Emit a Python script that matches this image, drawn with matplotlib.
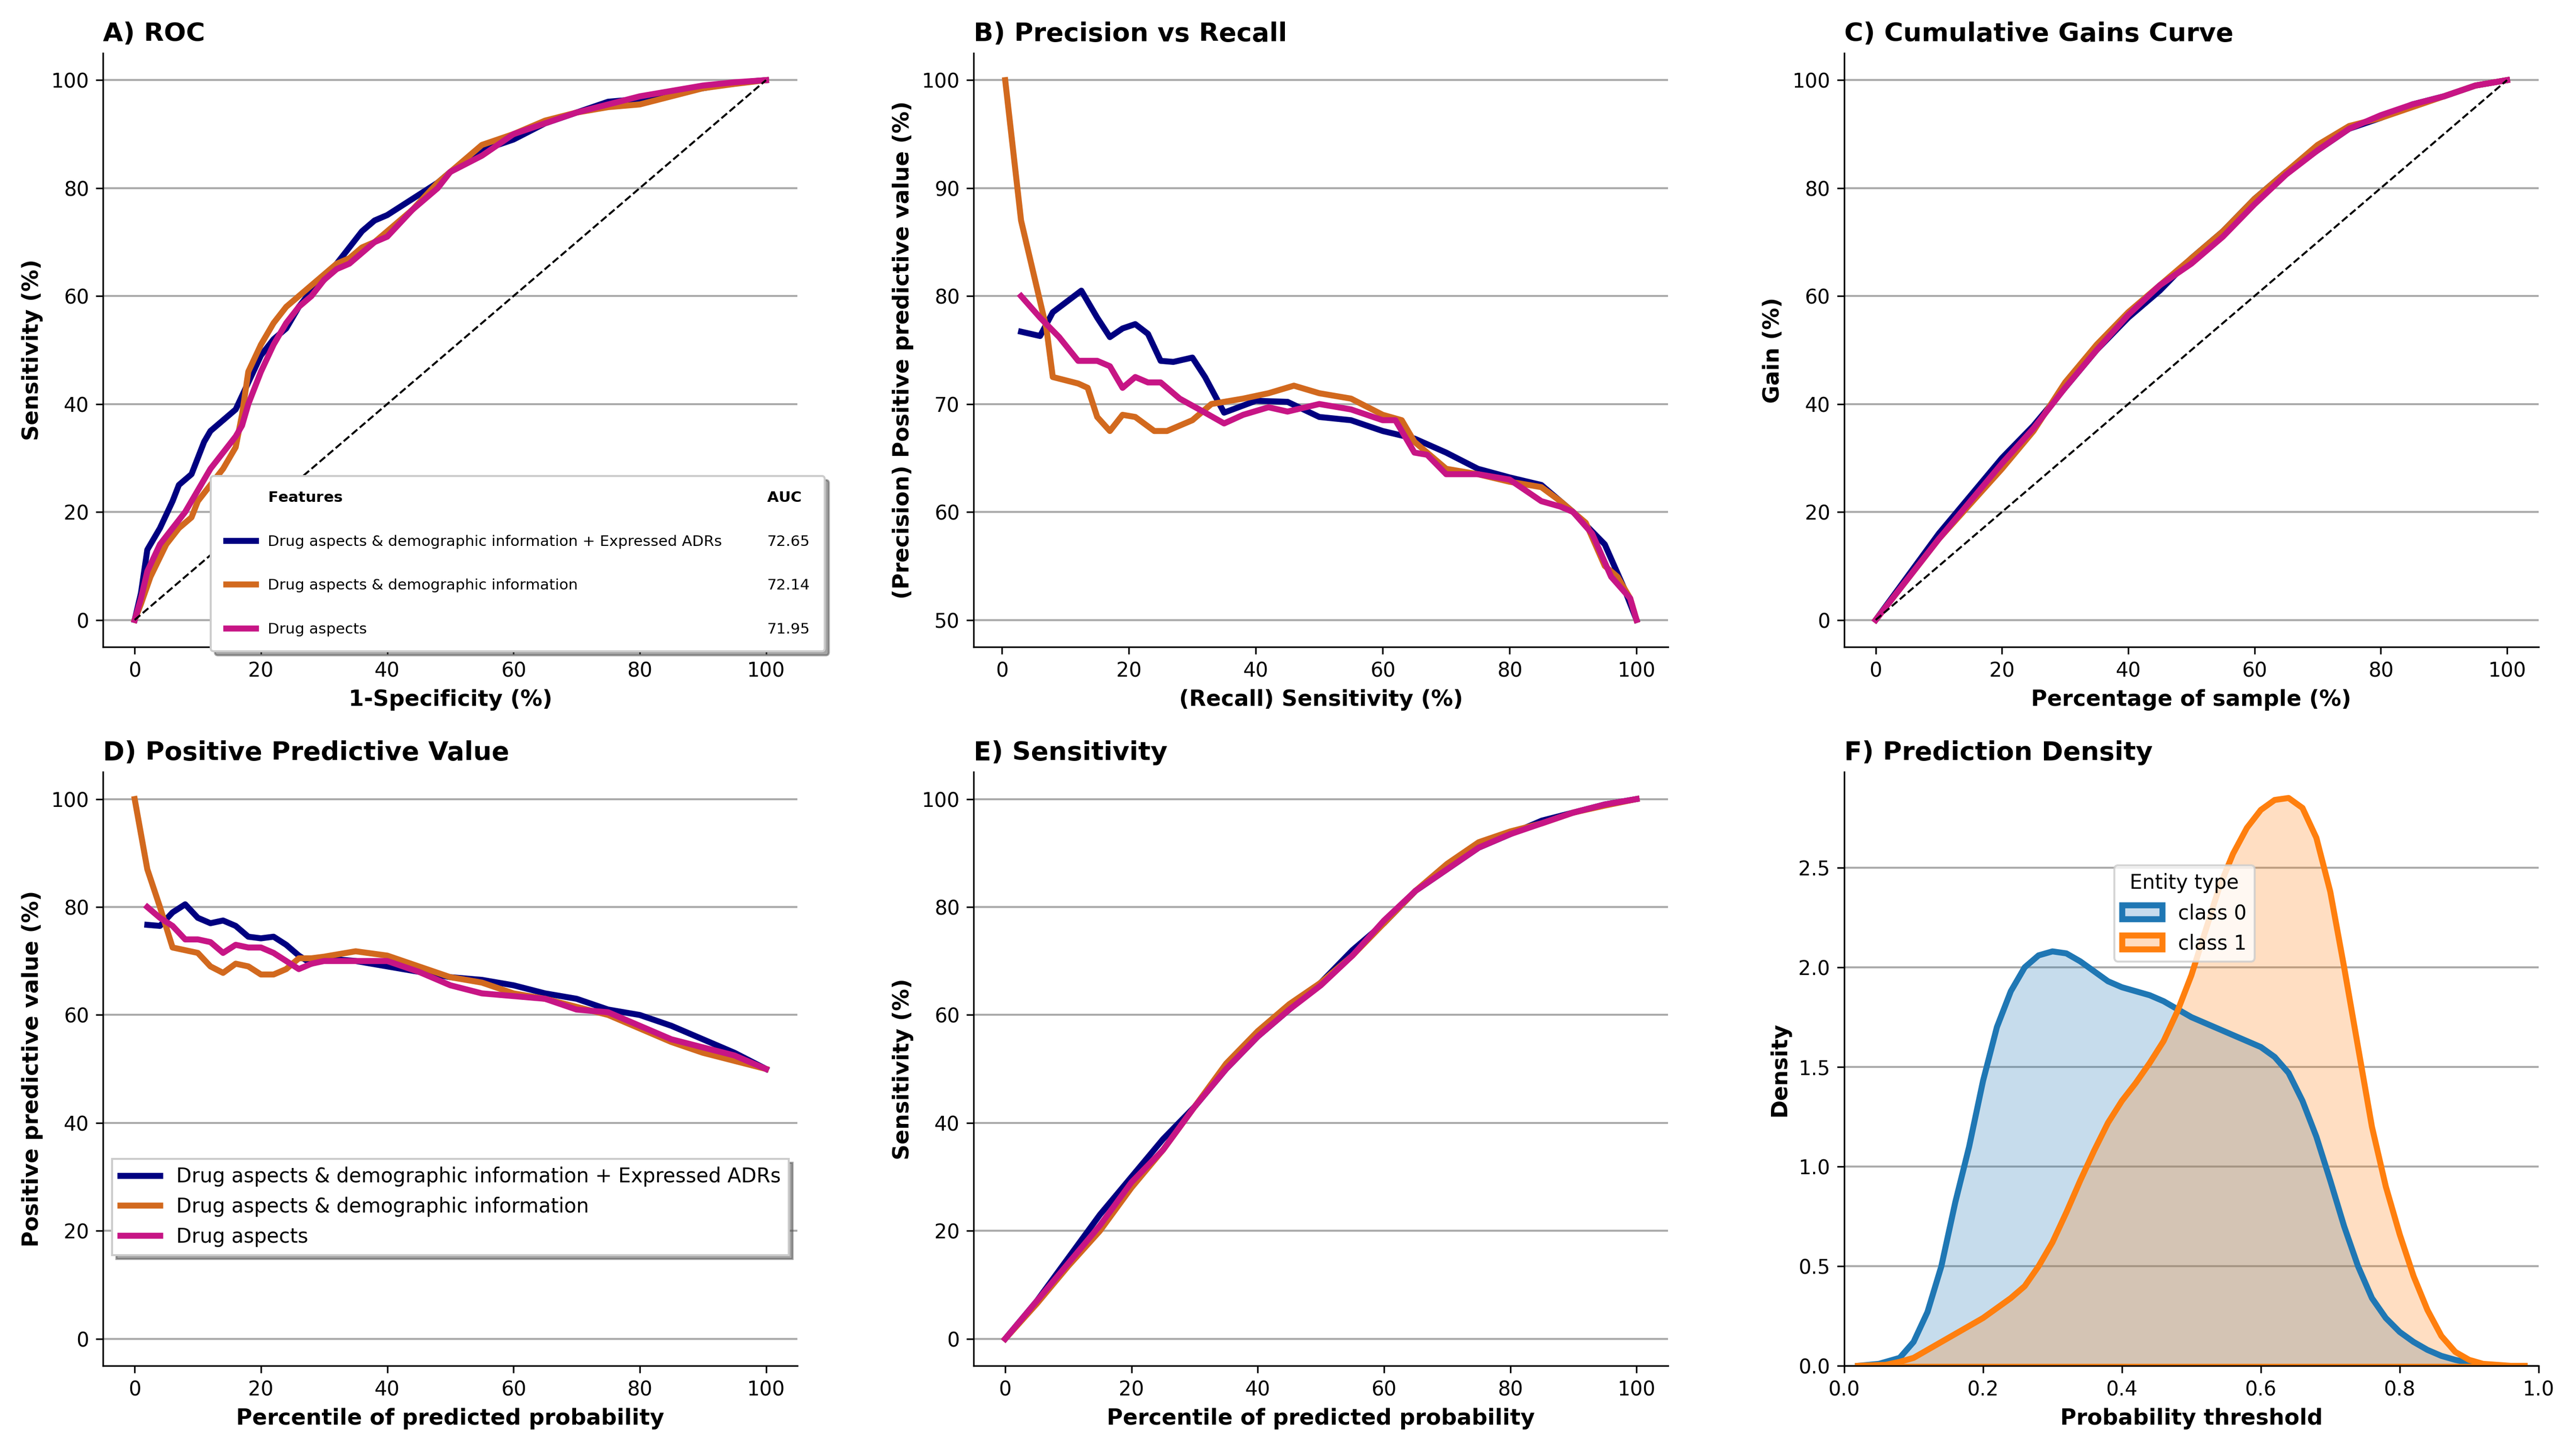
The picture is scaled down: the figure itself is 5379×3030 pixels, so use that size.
import numpy as np
import matplotlib
matplotlib.use('Agg')
import matplotlib.pyplot as plt
from matplotlib.lines import Line2D

NAMES = ['Drug aspects & demographic information + Expressed ADRs',
         'Drug aspects & demographic information',
         'Drug aspects']
COLORS = ['#000080', '#D2691E', '#C71585']
AUC = ['72.65', '72.14', '71.95']

# A) ROC
roc_x = [
    [0, 1, 2, 4, 6, 7, 9, 11, 12, 14, 16, 18, 20, 22, 24, 26, 28, 30, 32, 34, 36, 38, 40, 44, 48, 50, 55, 60, 65, 70, 75, 80, 85, 90, 95, 100],
    [0, 1, 2.5, 5, 7, 9, 10, 12, 14, 16, 17, 18, 20, 22, 24, 26, 28, 30, 32, 34, 36, 38, 40, 44, 48, 51, 55, 60, 65, 70, 75, 80, 85, 90, 95, 100],
    [0, 1, 2, 4, 6, 8, 10, 12, 14, 16, 17, 18, 20, 22, 24, 26, 28, 30, 32, 34, 36, 38, 40, 44, 48, 50, 55, 60, 65, 70, 75, 80, 85, 90, 95, 100],
]
roc_y = [
    [0, 5, 13, 17, 22, 25, 27, 33, 35, 37, 39, 44, 49, 52, 54, 58, 61, 63, 66, 69, 72, 74, 75, 78, 81, 83, 87, 89, 92, 94, 96, 96.5, 97.5, 98.5, 99.5, 100],
    [0, 3, 8, 14, 17, 19, 22, 25, 28, 32, 38, 46, 51, 55, 58, 60, 62, 64, 66, 67, 69, 70, 72, 76, 81, 84, 88, 90, 92.5, 94, 95, 95.5, 97, 98.5, 99.3, 100],
    [0, 4, 9, 14, 17, 20, 24, 28, 31, 34, 36, 40, 46, 51, 55, 58, 60, 63, 65, 66, 68, 70, 71, 76, 80, 83, 86, 90, 92, 94, 95.5, 97, 98, 99, 99.6, 100],
]

# B) Precision vs Recall
pr_x = [
    [3, 6, 8, 12.5, 15, 17, 19, 21, 23, 25, 27, 30, 32, 35, 40, 45, 50, 55, 60, 65, 70, 75, 80, 85, 90, 95, 98, 100],
    [0.5, 3, 5, 7, 8, 12, 13.5, 15, 17, 19, 21, 24, 26, 30, 33, 38, 42, 46, 50, 55, 60, 63, 65, 70, 75, 80, 85, 88, 92, 95, 97, 99, 100],
    [3, 6, 9, 12, 15, 17, 19, 21, 23, 25, 28, 32, 35, 38, 42, 45, 50, 55, 60, 62, 65, 67, 70, 75, 80, 85, 88, 90, 93, 96, 99, 100],
]
pr_y = [
    [76.7, 76.3, 78.5, 80.5, 78, 76.2, 77, 77.4, 76.5, 74, 73.9, 74.3, 72.5, 69.2, 70.3, 70.2, 68.8, 68.5, 67.5, 66.8, 65.5, 64, 63.2, 62.5, 60, 57, 53, 50],
    [100, 87, 82, 77, 72.5, 71.9, 71.5, 68.8, 67.5, 69, 68.8, 67.5, 67.5, 68.5, 70, 70.5, 71, 71.7, 71, 70.5, 69, 68.5, 66.5, 64, 63.5, 62.8, 62.3, 61, 59, 55, 54, 52, 50],
    [80, 78, 76.2, 74, 74, 73.5, 71.5, 72.5, 72, 72, 70.5, 69.2, 68.2, 69, 69.7, 69.3, 70, 69.5, 68.5, 68.5, 65.5, 65.3, 63.5, 63.5, 63, 61, 60.5, 60, 58, 54, 52, 50],
]

# C) Cumulative gains / E) Sensitivity
pct = [0, 5, 10, 15, 20, 25, 30, 35, 40, 45, 50, 55, 60, 65, 70, 75, 80, 85, 90, 95, 100]
gain_y = [
    [0, 8, 16, 23, 30, 36, 43, 50, 56, 61, 67, 72, 78, 83, 87, 91, 93, 95.5, 97, 99, 100],
    [0, 7.5, 15, 21.5, 28, 35, 44, 51, 57, 62, 67, 72, 78, 83, 88, 91.5, 93, 95, 97, 99, 100],
    [0, 7.5, 15, 22, 29, 35.5, 43, 50, 56.5, 62, 66, 71, 77, 82.5, 87, 91, 93.5, 95.5, 97, 99, 100],
]
sens_y = [
    [0, 7, 15, 23, 30, 37, 43, 50, 56, 61, 66, 72, 77, 83, 87, 91, 93.5, 96, 97.5, 99, 100],
    [0, 6.5, 13.5, 20, 28, 35, 43, 51, 57, 62, 66, 71, 77, 83, 88, 92, 94, 95.5, 97.5, 98.8, 100],
    [0, 7, 14, 21, 29, 35, 43, 50, 56, 61, 65.5, 71, 77.5, 83, 87, 91, 93.5, 95.5, 97.5, 99, 100],
]

# D) Positive predictive value
ppv_x = [
    [2, 4, 6, 8, 10, 12, 14, 16, 18, 20, 22, 24, 26, 28, 30, 35, 40, 45, 50, 55, 60, 65, 70, 75, 80, 85, 90, 95, 100],
    [0, 2, 4, 6, 8, 10, 12, 14, 16, 18, 20, 22, 24, 26, 28, 30, 35, 40, 45, 50, 55, 60, 65, 70, 75, 80, 85, 90, 95, 100],
    [2, 4, 6, 8, 10, 12, 14, 16, 18, 20, 22, 24, 26, 28, 30, 35, 40, 45, 50, 55, 60, 65, 70, 75, 80, 85, 90, 95, 100],
]
ppv_y = [
    [76.7, 76.5, 79, 80.5, 78, 77, 77.5, 76.5, 74.5, 74.2, 74.5, 73, 71, 69.5, 70.5, 70, 69, 68, 67, 66.5, 65.5, 64, 63, 61, 60, 58, 55.5, 53, 50],
    [100, 87, 80, 72.5, 72, 71.5, 69, 67.8, 69.5, 69, 67.5, 67.5, 68.5, 70.5, 70.5, 70.8, 71.8, 71, 69, 67, 66, 64, 63, 61.5, 60, 57.5, 55, 53, 51.5, 50],
    [80, 78, 76.5, 74, 74, 73.5, 71.5, 73, 72.5, 72.5, 71.5, 70, 68.5, 69.5, 70, 70, 70, 68, 65.5, 64, 63.5, 63, 61, 60.5, 58, 55.5, 54, 52.5, 50],
]

# F) density
d0_x = [0.02, 0.05, 0.08, 0.10, 0.12, 0.14, 0.16, 0.18, 0.20, 0.22, 0.24, 0.26, 0.28, 0.30, 0.32, 0.34, 0.36, 0.38, 0.40, 0.42, 0.44, 0.46, 0.48, 0.50, 0.52, 0.54, 0.56, 0.58, 0.60, 0.62, 0.64, 0.66, 0.68, 0.70, 0.72, 0.74, 0.76, 0.78, 0.80, 0.82, 0.84, 0.86, 0.88, 0.90, 0.92]
d0_y = [0, 0.01, 0.04, 0.12, 0.27, 0.5, 0.82, 1.1, 1.43, 1.7, 1.88, 2.0, 2.06, 2.08, 2.07, 2.03, 1.98, 1.93, 1.9, 1.88, 1.86, 1.83, 1.79, 1.75, 1.72, 1.69, 1.66, 1.63, 1.6, 1.55, 1.47, 1.33, 1.15, 0.93, 0.7, 0.5, 0.34, 0.24, 0.17, 0.12, 0.08, 0.05, 0.03, 0.015, 0.0]
d1_x = [0.02, 0.06, 0.08, 0.10, 0.12, 0.14, 0.16, 0.18, 0.20, 0.22, 0.24, 0.26, 0.28, 0.30, 0.32, 0.34, 0.36, 0.38, 0.40, 0.42, 0.44, 0.46, 0.48, 0.50, 0.52, 0.54, 0.56, 0.58, 0.60, 0.62, 0.64, 0.66, 0.68, 0.70, 0.72, 0.74, 0.76, 0.78, 0.80, 0.82, 0.84, 0.86, 0.88, 0.90, 0.92, 0.96, 0.98]
d1_y = [0, 0.005, 0.02, 0.04, 0.08, 0.12, 0.16, 0.2, 0.24, 0.29, 0.34, 0.4, 0.5, 0.62, 0.77, 0.93, 1.08, 1.22, 1.33, 1.42, 1.52, 1.63, 1.78, 1.96, 2.18, 2.4, 2.57, 2.7, 2.79, 2.84, 2.85, 2.8, 2.65, 2.38, 2.0, 1.6, 1.2, 0.9, 0.66, 0.45, 0.28, 0.15, 0.07, 0.03, 0.01, 0.0, 0.0]

LW = 3

def style(ax, title, xlabel, ylabel):
    ax.set_title(title, loc='left', fontweight='bold', fontsize=13)
    ax.set_xlabel(xlabel, fontweight='bold', fontsize=11)
    ax.set_ylabel(ylabel, fontweight='bold', fontsize=11)
    ax.spines['top'].set_visible(False)
    ax.spines['right'].set_visible(False)
    ax.yaxis.grid(True, color='#aaaaaa', linewidth=1)
    ax.set_axisbelow(True)

fig, axes = plt.subplots(2, 3, figsize=(17.93, 10.1), dpi=300)

ax = axes[0, 0]
for i in range(3):
    ax.plot(roc_x[i], roc_y[i], color=COLORS[i], lw=LW)
ax.plot([0, 100], [0, 100], 'k--', lw=1)
style(ax, 'A) ROC', '1-Specificity (%)', 'Sensitivity (%)')
blank = Line2D([], [], color='none')
handles = [blank] + [Line2D([], [], color=c, lw=LW) for c in COLORS] + [blank] * 4
labels = ['$\\bf{Features}$'] + NAMES + ['$\\bf{AUC}$'] + AUC
ax.legend(handles, labels, ncol=2, loc='lower right', fontsize=7.5, shadow=True,
          handlelength=2, columnspacing=0.2, labelspacing=2.0, borderpad=1.0,
          bbox_to_anchor=(1.05, -0.02))

ax = axes[0, 1]
for i in range(3):
    ax.plot(pr_x[i], pr_y[i], color=COLORS[i], lw=LW)
style(ax, 'B) Precision vs Recall', '(Recall) Sensitivity (%)', '(Precision) Positive predictive value (%)')

ax = axes[0, 2]
for i in range(3):
    ax.plot(pct, gain_y[i], color=COLORS[i], lw=LW)
ax.plot([0, 100], [0, 100], 'k--', lw=1)
style(ax, 'C) Cumulative Gains Curve', 'Percentage of sample (%)', 'Gain (%)')

ax = axes[1, 0]
for i in range(3):
    ax.plot(ppv_x[i], ppv_y[i], color=COLORS[i], lw=LW, label=NAMES[i])
ax.set_ylim(-5, 105)
style(ax, 'D) Positive Predictive Value', 'Percentile of predicted probability', 'Positive predictive value (%)')
ax.legend(loc='lower center', bbox_to_anchor=(0.5, 0.17), fontsize=10, shadow=True, fancybox=False)

ax = axes[1, 1]
for i in range(3):
    ax.plot(pct, sens_y[i], color=COLORS[i], lw=LW)
style(ax, 'E) Sensitivity', 'Percentile of predicted probability', 'Sensitivity (%)')

ax = axes[1, 2]
ax.fill_between(d0_x, d0_y, color='#1f77b4', alpha=0.25, lw=0)
ax.plot(d0_x, d0_y, color='#1f77b4', lw=LW)
ax.fill_between(d1_x, d1_y, color='#ff7f0e', alpha=0.25, lw=0)
ax.plot(d1_x, d1_y, color='#ff7f0e', lw=LW)
ax.plot([0.02, 0.98], [0, 0], color='#ff7f0e', lw=2)
ax.set_xlim(0, 1)
ax.set_ylim(0, 2.98)
style(ax, 'F) Prediction Density', 'Probability threshold', 'Density')
from matplotlib.patches import Patch
lh = [Patch(facecolor='#c6dbed', edgecolor='#1f77b4', lw=3),
      Patch(facecolor='#ffdcc0', edgecolor='#ff7f0e', lw=3)]
ax.legend(lh, ['class 0', 'class 1'], title='Entity type', loc='upper center',
          bbox_to_anchor=(0.49, 0.86), fontsize=10, title_fontsize=10)

fig.tight_layout(h_pad=1.5, w_pad=2.5)
fig.savefig('out.png')
